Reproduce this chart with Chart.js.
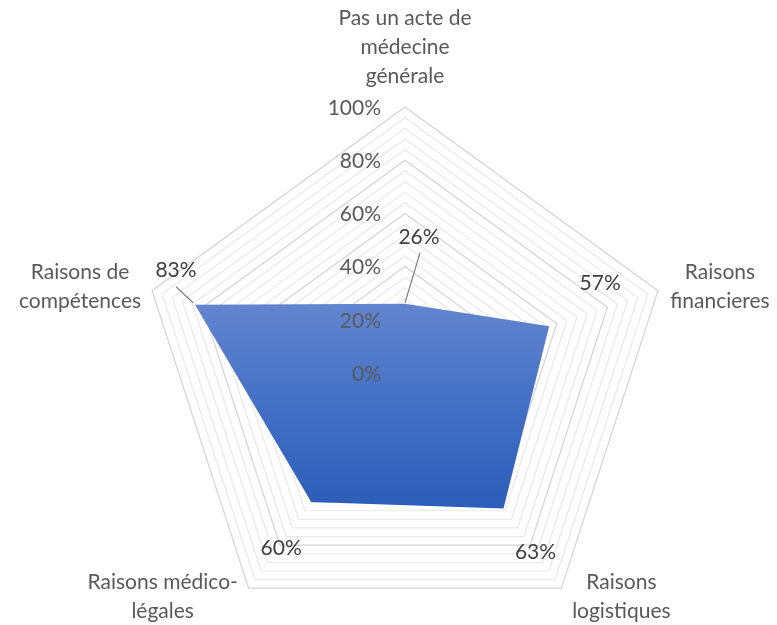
<!DOCTYPE html>
<html>
<head>
<meta charset="utf-8">
<script src="https://cdn.jsdelivr.net/npm/chart.js@4/dist/chart.umd.min.js"></script>
<style>
  html, body { margin: 0; padding: 0; background: #ffffff; overflow: hidden; }
  #wrap { position: absolute; left: 0; top: 0; width: 777px; height: 650px; }
</style>
</head>
<body>
<div id="wrap"><canvas id="c"></canvas></div>
<script>
// ---- data ----
const categories = [
  ["Pas un acte de", "médecine", "générale"],
  ["Raisons", "financieres"],
  ["Raisons", "logistiques"],
  ["Raisons médico-", "légales"],
  ["Raisons de", "compétences"]
];
const values = [26, 57, 63, 60, 83];
const tickLabels = [0, 20, 40, 60, 80, 100];

const FONT = "Lato, 'Open Sans', sans-serif";

// label placement (style only)
const catOffsets = [
  { dx: 0, dy: -89 },
  { dx: 62, dy: -19 },
  { dx: 60, dy: -6 },
  { dx: -86, dy: -6 },
  { dx: -72, dy: -19 }
];
const valOffsets = [
  { dx: 14, dy: -67, leader: true },
  { dx: 51, dy: -43 },
  { dx: 32, dy: 44 },
  { dx: -30, dy: 46 },
  { dx: -19, dy: -35, leader: true }
];

const shadowPlugin = {
  id: 'shadow',
  beforeDatasetDraw(chart) {
    const ctx = chart.ctx;
    ctx.save();
    ctx.shadowColor = 'rgba(0,0,0,0.35)';
    ctx.shadowBlur = 6;
    ctx.shadowOffsetX = 3;
    ctx.shadowOffsetY = 3;
  },
  afterDatasetDraw(chart) {
    chart.ctx.restore();
  }
};

const labelsPlugin = {
  id: 'labels',
  afterDraw(chart) {
    const ctx = chart.ctx;
    const r = chart.scales.r;
    ctx.save();
    // tick labels
    ctx.font = "21px " + FONT;
    ctx.fillStyle = '#595959';
    ctx.textAlign = 'right';
    ctx.textBaseline = 'middle';
    tickLabels.forEach(v => {
      const d = r.getDistanceFromCenterForValue(v);
      ctx.fillText(v + '%', r.xCenter - 24, r.yCenter - d + 1);
    });
    // category labels
    ctx.textAlign = 'center';
    categories.forEach((lines, i) => {
      const p = r.getPointPosition(i, r.drawingArea);
      const o = catOffsets[i];
      lines.forEach((t, k) => {
        ctx.fillText(t, p.x + o.dx, p.y + o.dy + k * 29);
      });
    });
    // value labels
    const meta = chart.getDatasetMeta(0);
    ctx.fillStyle = '#404040';
    meta.data.forEach((pt, i) => {
      const o = valOffsets[i];
      const lx = pt.x + o.dx, ly = pt.y + o.dy;
      if (o.leader) {
        ctx.strokeStyle = '#7f7f7f';
        ctx.lineWidth = 1.2;
        ctx.beginPath();
        if (i === 0) { ctx.moveTo(lx + 1, ly + 16); }
        else { ctx.moveTo(lx, ly + 17); }
        ctx.lineTo(pt.x - (i === 0 ? 0 : 2), pt.y - (i === 0 ? 1 : 2));
        ctx.stroke();
      }
      ctx.fillText(values[i] + '%', lx, ly);
    });
    ctx.restore();
  }
};

function fillGradient(context) {
  const chart = context.chart;
  const r = chart.scales.r;
  if (!r || !r.drawingArea) return '#4472c4';
  const top = r.yCenter - r.getDistanceFromCenterForValue(Math.max(values[0], 0));
  const bottom = r.yCenter + r.getDistanceFromCenterForValue(Math.max(values[2], values[3])) * Math.cos(Math.PI / 5);
  const g = chart.ctx.createLinearGradient(0, top, 0, bottom);
  g.addColorStop(0, '#6385cf');
  g.addColorStop(0.5, '#4270c5');
  g.addColorStop(1, '#2c5db8');
  return g;
}

new Chart(document.getElementById('c'), {
  type: 'radar',
  data: {
    labels: categories,
    datasets: [{
      data: values,
      fill: true,
      backgroundColor: fillGradient,
      borderWidth: 0,
      borderColor: 'rgba(0,0,0,0)',
      pointRadius: 0,
      pointHoverRadius: 0
    }]
  },
  options: {
    responsive: true,
    maintainAspectRatio: false,
    animation: false,
    layout: { padding: { top: 107, bottom: 11, left: 139, right: 106 } },
    plugins: { legend: { display: false }, tooltip: { enabled: false } },
    scales: {
      r: {
        min: 0,
        max: 100,
        startAngle: 0,
        angleLines: { display: false },
        pointLabels: { display: false },
        ticks: { display: false, stepSize: 4 },
        grid: {
          circular: false,
          lineWidth: 1.2,
          color: (c) => (c.tick && c.tick.value % 20 === 0) ? '#d4d4d4' : '#e9e9e9'
        }
      }
    }
  },
  plugins: [shadowPlugin, labelsPlugin]
});
</script>
</body>
</html>
